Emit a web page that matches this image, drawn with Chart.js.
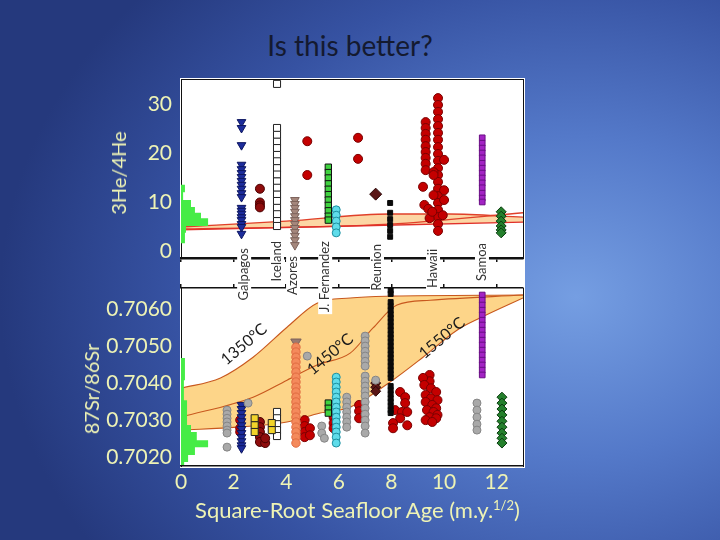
<!DOCTYPE html>
<html>
<head>
<meta charset="utf-8">
<script src="https://cdn.jsdelivr.net/npm/chart.js@4.4.0/dist/chart.umd.min.js"></script>
<style>
html, body { margin: 0; padding: 0; }
body {
  width: 720px; height: 540px; overflow: hidden; position: relative;
  background: radial-gradient(ellipse 80% 85% at 80% 55%, #759ee2 0%, #5479c9 35%, #3652a2 70%, #25397d 100%);
  font-family: Lato, "Open Sans", sans-serif;
}
#title { position: absolute; left: -10px; width: 720px; top: 28px; text-align: center; font-size: 28px; color: #141a30; }
#plotbg { position: absolute; left: 180px; top: 78px; width: 345px; height: 390px; background: #fff; }
.layer { position: absolute; left: 0; top: 0; }
.ytitle { position: absolute; color: #eef3b5; font-size: 20px; white-space: nowrap; transform: translate(-50%, -50%) rotate(-90deg); }
#xtitle { position: absolute; left: 180px; width: 355px; top: 496px; text-align: center; color: #eef3b5; font-size: 22px; white-space: nowrap; }
#xtitle sup { font-size: 13px; }
</style>
</head>
<body>
<div id="title">Is this better?</div>
<div id="plotbg"></div>
<canvas class="layer" id="heChart" width="720" height="540"></canvas>
<canvas class="layer" id="srChart" width="720" height="540"></canvas>
<div class="ytitle" style="left:118px; top:173px;">3He/4He</div>
<div class="ytitle" style="left:91px; top:389px;">87Sr/86Sr</div>
<div id="xtitle">Square-Root Seafloor Age (m.y.<sup>1/2</sup>)</div>
<script>
// axes
const xTicks = [0, 2, 4, 6, 8, 10, 12];
const heTicks = [0, 10, 20, 30];
const srTicks = [0.702, 0.703, 0.704, 0.705, 0.706];

// hotspot names under the upper panel
const hotspotNames = ['Galpagos', 'Iceland', 'Azores', 'J. Fernandez', 'Reunion', 'Hawaii', 'Samoa'];
const hotspotX = [2.4, 3.65, 4.26, 5.48, 7.45, 9.58, 11.44];

// MORB histograms (bin edges, bar lengths)
const heHistEdges = [13.5, 12.0, 10.4, 9.0, 7.8, 6.7, 5.1, 3.7, 1.6];
const heHistWidth = [0.15, 0.08, 0.38, 0.53, 0.76, 1.03, 0.19, 0.15];
const srHistEdges = [0.70468, 0.70408, 0.70354, 0.702865, 0.702676, 0.702459, 0.70227, 0.702054, 0.701865, 0.701784];
const srHistWidth = [0.15, 0.11, 0.23, 0.38, 0.6, 1.03, 0.53, 0.27, 0.12];

// model curves, 3He/4He
const heUpperX = [0, 4.0, 7.95, 10.2, 13];
const heUpperY = [4.9, 6.1, 7.55, 7.55, 6.9];
const heMidX = [0, 7.95, 13];
const heMidY = [4.5, 5.5, 7.8];
const heLowerX = [0, 13];
const heLowerY = [4.3, 5.9];

// model curves, 87Sr/86Sr
const sr1350X = [0, 1.5, 2.74, 4.03, 5.17, 6.43, 8.0, 13.0];
const sr1350Y = [0.70386, 0.70414, 0.70470, 0.70551, 0.70616, 0.70630, 0.70635, 0.70638];
const sr1450X = [0, 2.74, 4.03, 5.17, 6.43, 7.3, 8.21, 9.47, 13.0];
const sr1450Y = [0.70308, 0.70362, 0.70408, 0.70449, 0.70481, 0.70549, 0.70611, 0.70624, 0.70638];
const sr1550X = [0, 2.13, 4.03, 5.29, 6.43, 7.95, 9.2, 10.49, 11.37, 13.0];
const sr1550Y = [0.70273, 0.70281, 0.70295, 0.70319, 0.70335, 0.70403, 0.70470, 0.70543, 0.70576, 0.70630];
const curveLabels = ['1350°C', '1450°C', '1550°C'];
const curveLabelX = [2.4, 5.67, 9.92];
const curveLabelY = [0.70505, 0.70478, 0.70522];

// 3He/4He samples
const heGalapagosY = [26.3, 25.1, 21.6, 17.6, 16.7, 15.9, 15.1, 14.3, 13.5, 12.7, 11.8, 11.0, 8.8, 8.2, 7.6, 6.9, 6.3, 5.5, 4.9, 3.5];
const heDarkRedY = [12.7, 9.9, 9.3, 8.9];
const heIcelandY = [34.1, 25.1, 23.7, 22.3, 21.0, 19.6, 18.3, 16.9, 15.6, 14.2, 12.9, 11.5, 10.2, 8.8, 7.5, 6.1, 5.1];
const heAzoresY = [10.4, 9.6, 8.8, 8.0, 7.1, 6.3, 5.5, 4.7, 3.9, 3.1, 2.2, 1.2];
const heFernandezY = [17.1, 16.0, 14.9, 13.7, 12.6, 11.5, 10.4, 9.3, 8.2, 7.1, 6.3];
const heCyanY = [8.4, 7.3, 6.1, 4.9, 3.7];
const heBrownY = [11.6];
const heReunionY = [9.8, 7.8, 6.5, 5.3, 4.1, 2.9];
const heSamoaY = [23.1, 22.0, 21.0, 20.0, 19.0, 17.9, 16.9, 15.9, 14.9, 13.9, 12.9, 11.8, 10.8, 10.0];
const heDiamondY = [8.0, 7.1, 6.1, 5.1, 4.3, 3.7];
const heRedX = [4.8, 4.8, 6.73, 6.73,
  9.3, 9.3, 9.3, 9.3, 9.3, 9.3, 9.3, 9.3, 9.3,
  9.77, 9.77, 9.77, 9.77, 9.77, 9.77, 9.77, 9.77, 9.77, 9.77, 9.77, 9.77, 9.77, 9.77, 9.77, 9.77, 9.77, 9.77, 9.77, 9.77,
  9.2, 9.25, 9.4, 9.45, 9.6, 9.55, 10.0, 10.0, 10.0, 9.95, 9.6, 9.6];
const heRedY = [22.4, 15.5, 23.1, 18.8,
  26.3, 25.1, 23.9, 22.7, 21.4, 20.2, 19.0, 17.8, 16.5,
  31.2, 29.8, 28.4, 26.9, 25.5, 24.1, 22.7, 21.2, 19.8, 18.4, 16.9, 15.5, 14.1, 12.7, 11.2, 9.8, 8.4, 6.9, 5.5, 4.1,
  13.1, 9.4, 8.6, 6.7, 16.1, 8.0, 18.6, 12.4, 10.4, 7.3, 15.5, 11.4];

// 87Sr/86Sr samples
const srGalapagosY = [0.70341, 0.70330, 0.70319, 0.70308, 0.70297, 0.70286, 0.70276, 0.70265, 0.70254, 0.70243, 0.70232, 0.70224];
const srIcelandY = [0.70322, 0.70305, 0.70289, 0.70273, 0.70257];
const srAzoresY = [0.70497, 0.70484, 0.70470, 0.70457, 0.70443, 0.70430, 0.70416, 0.70403, 0.70389, 0.70376,
  0.70362, 0.70349, 0.70335, 0.70322, 0.70308, 0.70295, 0.70281, 0.70268, 0.70254, 0.70238];
const srAzoresTopY = [0.70511];
const srFernandezY = [0.70346, 0.70332, 0.70319];
const srCyanY = [0.70416, 0.70403, 0.70389, 0.70376, 0.70362, 0.70349, 0.70335, 0.70322, 0.70308, 0.70295, 0.70281, 0.70268, 0.70254, 0.70238];
const srBrownY = [0.70400, 0.70389, 0.70378];
const srReunionY = [0.70651, 0.70641, 0.70619, 0.70608, 0.70597, 0.70586, 0.70576, 0.70565, 0.70554, 0.70543, 0.70532, 0.70522,
  0.70511, 0.70500, 0.70489, 0.70478, 0.70468, 0.70457, 0.70446, 0.70435, 0.70424, 0.70414, 0.70392, 0.70381, 0.70370,
  0.70359, 0.70349, 0.70338, 0.70327, 0.70319];
const srSamoaY = [0.70638, 0.70624, 0.70611, 0.70597, 0.70584, 0.70570, 0.70557, 0.70543, 0.70530, 0.70516, 0.70503,
  0.70489, 0.70476, 0.70462, 0.70449, 0.70435, 0.70422];
const srDiamondY = [0.70362, 0.70346, 0.70330, 0.70314, 0.70297, 0.70281, 0.70265, 0.70251, 0.70238];
const srDarkRedX = [3.0, 3.0, 3.0, 3.0, 3.0, 3.2, 3.2];
const srDarkRedY = [0.70295, 0.70281, 0.70268, 0.70254, 0.70241, 0.70238, 0.70251];
const srYellowX = [2.8, 2.8, 2.8, 3.45, 3.45];
const srYellowY = [0.70305, 0.70286, 0.70268, 0.70292, 0.70273];
const srGrayX = [1.75, 1.75, 1.75, 1.75, 1.75, 1.75, 1.75, 1.75, 2.55, 4.8, 5.35, 5.35, 5.45,
  6.3, 6.3, 6.3, 6.3, 6.3, 6.3, 6.3,
  7.0, 7.0, 7.0, 7.0, 7.0, 7.0, 7.0, 7.0, 7.0, 7.0, 7.0, 7.0, 7.0, 7.0, 7.0, 7.0, 7.0, 7.0,
  7.4, 11.25, 11.25, 11.25, 11.25, 11.25];
const srGrayY = [0.70327, 0.70316, 0.70305, 0.70295, 0.70284, 0.70273, 0.70265, 0.70227, 0.70346, 0.70473, 0.70284, 0.70265, 0.70251,
  0.70362, 0.70349, 0.70335, 0.70322, 0.70308, 0.70295, 0.70281,
  0.70527, 0.70514, 0.70500, 0.70486, 0.70473, 0.70459, 0.70446, 0.70419, 0.70405, 0.70392, 0.70378, 0.70365, 0.70349, 0.70332, 0.70316, 0.70300, 0.70284, 0.70265,
  0.70408, 0.70346, 0.70327, 0.70308, 0.70289, 0.70273];
const srRedX = [2.25, 2.25, 2.25, 4.7, 4.7, 4.7, 4.7, 4.9, 4.9, 5.8, 5.8, 5.8, 6.77, 6.77, 6.77,
  8.33, 8.52, 8.52, 8.14, 8.4, 8.6, 8.33, 8.06, 8.6, 8.06,
  9.45, 9.45, 9.2, 9.25, 9.5, 9.7, 9.3, 9.5, 9.75, 9.3, 9.55, 9.7, 9.35, 9.6, 9.75, 9.45, 9.7, 9.3, 9.55];
const srRedY = [0.70300, 0.70278, 0.70268, 0.70300, 0.70284, 0.70268, 0.70254, 0.70278, 0.70259, 0.70308, 0.70292, 0.70278, 0.70341, 0.70324, 0.70305,
  0.70376, 0.70362, 0.70346, 0.70327, 0.70322, 0.70322, 0.70305, 0.70292, 0.70286, 0.70278,
  0.70422, 0.70405, 0.70414, 0.70395, 0.70386, 0.70376, 0.70368, 0.70359, 0.70354, 0.70349, 0.70341, 0.70332, 0.70327, 0.70322, 0.70314, 0.70308, 0.70305, 0.70300, 0.70295];

const tickColor = '#eef3b5';

function col(x, ys) { return ys.map(y => ({ x: x, y: y })); }
function pairs(xs, ys) { return xs.map((x, i) => ({ x: x, y: ys[i] })); }
function pts(data, style, fill, stroke, r, rot) {
  return { data: data, showLine: false, pointStyle: style, pointRadius: r, pointBackgroundColor: fill,
    pointBorderColor: stroke, pointBorderWidth: 1, pointRotation: rot || 0, order: 1 };
}
// the filled curve gets a higher order so it is painted first, under the other lines
function curve(xs, ys, color, width, fill, bg) {
  return { data: pairs(xs, ys), showLine: true, pointRadius: 0, borderColor: color, borderWidth: width,
    fill: fill || false, backgroundColor: bg || 'transparent', cubicInterpolationMode: 'monotone',
    order: fill ? 6 : 5 };
}
function hist(edges, widths) {
  const p = [{ x: 0, y: edges[0] }];
  widths.forEach((w, i) => { p.push({ x: w, y: edges[i] }); p.push({ x: w, y: edges[i + 1] }); });
  p.push({ x: 0, y: edges[edges.length - 1] });
  return { data: p, showLine: true, pointRadius: 0, borderWidth: 0, borderColor: 'transparent',
    fill: 'shape', backgroundColor: '#46ec46', order: 4 };
}
function fixTicks(list) { return s => { s.ticks = list.map(v => ({ value: v })); }; }

function frameScales(xOpts, yOpts, top) {
  return {
    x: Object.assign({ type: 'linear', min: 0, max: 13, afterBuildTicks: fixTicks(xTicks),
      border: { color: '#111', width: 1.5 } }, xOpts),
    x2: { type: 'linear', position: 'top', min: 0, max: 13, afterBuildTicks: fixTicks(xTicks),
      afterFit: s => { s.height = 0; }, ticks: { display: false },
      grid: { drawOnChartArea: false, drawTicks: top, tickLength: 4, color: '#111', lineWidth: 1.5 },
      border: { color: '#111', width: top ? 1.5 : 1 } },
    y: Object.assign({ type: 'linear', afterFit: s => { s.width = 76; },
      grid: { drawOnChartArea: false, drawTicks: false }, border: { color: '#111', width: 1 } }, yOpts),
    y2: { type: 'linear', position: 'right', afterFit: s => { s.width = 0; }, ticks: { display: false },
      grid: { drawOnChartArea: false, drawTicks: false }, border: { color: '#111', width: 1 } }
  };
}

const commonPlugins = { legend: { display: false }, tooltip: { enabled: false } };

// upper panel: 3He/4He
new Chart(document.getElementById('heChart'), {
  type: 'scatter',
  data: {
    datasets: [
      curve(heUpperX, heUpperY, '#e0402a', 1.3, '+1', '#fcd6a4'),
      curve(heLowerX, heLowerY, '#e0302a', 1.3),
      curve(heMidX, heMidY, '#e0402a', 1.3),
      hist(heHistEdges, heHistWidth),
      pts(col(2.3, heGalapagosY), 'triangle', '#1c2c9c', '#0d1660', 5, 180),
      pts(col(3.0, heDarkRedY), 'circle', '#8e0c0c', '#4a0000', 4.5),
      pts(col(3.65, heIcelandY), 'rect', '#ffffff', '#222222', 5),
      pts(col(4.33, heAzoresY), 'triangle', '#a5877c', '#7c625a', 5, 180),
      pts(col(5.6, heFernandezY), 'rect', '#3fd23f', '#111111', 4.5),
      pts(col(5.9, heCyanY), 'circle', '#5fdcea', '#1b8fa0', 4),
      pts(col(7.4, heBrownY), 'rectRot', '#5a1616', '#2a0505', 6),
      pts(col(7.95, heReunionY), 'rect', '#0a0a0a', '#0a0a0a', 3.5),
      pts(pairs(heRedX, heRedY), 'circle', '#c40000', '#7a0000', 4.5),
      pts(col(11.45, heSamoaY), 'rect', '#a323c4', '#6a0e85', 4),
      pts(col(12.17, heDiamondY), 'rectRot', '#24802c', '#0b3d10', 5)
    ]
  },
  options: {
    responsive: false, animation: false,
    layout: { padding: { left: 105, top: 79, right: 197, bottom: 282 } },
    plugins: commonPlugins,
    scales: frameScales(
      { afterFit: s => { s.height = 0; }, ticks: { display: false },
        grid: { drawOnChartArea: false, drawTicks: true, tickLength: 4, color: '#111', lineWidth: 1.5 },
        border: { color: '#111', width: 2.5 } },
      { min: -1.43, max: 35.1, afterBuildTicks: fixTicks(heTicks),
        ticks: { color: tickColor, padding: 9, font: { family: 'Lato', size: 21 } } },
      false)
  }
});

// rotated hotspot names and curve temperatures
const labelLift = [-40, -47, -32, -47, -44, -39, -45];
const annotations = {
  id: 'annotations',
  afterDraw(chart) {
    const { ctx, chartArea } = chart;
    const xs = chart.scales.x, ys = chart.scales.y;
    ctx.save();
    ctx.font = '13px Lato';
    ctx.textBaseline = 'middle';
    ctx.textAlign = 'right';
    hotspotNames.forEach((name, i) => {
      const w = ctx.measureText(name).width;
      ctx.save();
      ctx.translate(xs.getPixelForValue(hotspotX[i]), chartArea.top + labelLift[i]);
      ctx.rotate(-Math.PI / 2);
      ctx.fillStyle = '#ffffff';
      ctx.fillRect(-w - 2, -7, w + 4, 14);
      ctx.fillStyle = '#333333';
      ctx.fillText(name, 0, 0);
      ctx.restore();
    });
    ctx.font = '16px Lato';
    ctx.textAlign = 'center';
    ctx.fillStyle = '#1a1a1a';
    curveLabels.forEach((t, i) => {
      ctx.save();
      ctx.translate(xs.getPixelForValue(curveLabelX[i]), ys.getPixelForValue(curveLabelY[i]));
      ctx.rotate(-40 * Math.PI / 180);
      ctx.fillText(t, 0, 0);
      ctx.restore();
    });
    ctx.restore();
  }
};

// lower panel: 87Sr/86Sr
new Chart(document.getElementById('srChart'), {
  type: 'scatter',
  data: {
    datasets: [
      curve(sr1350X, sr1350Y, '#c8581e', 1.1, '+2', '#fdd589'),
      curve(sr1450X, sr1450Y, '#c8581e', 1.1),
      curve(sr1550X, sr1550Y, '#c8581e', 1.1),
      hist(srHistEdges, srHistWidth),
      pts(pairs(srGrayX, srGrayY), 'circle', '#a9a9a9', '#858585', 4),
      pts(col(2.3, srGalapagosY), 'triangle', '#1c2c9c', '#0d1660', 5, 180),
      pts(pairs(srYellowX, srYellowY), 'rect', '#f2d42a', '#222222', 5),
      pts(pairs(srDarkRedX, srDarkRedY), 'circle', '#8e0c0c', '#4a0000', 4.5),
      pts(col(3.65, srIcelandY), 'rect', '#ffffff', '#222222', 5),
      pts(col(4.37, srAzoresY), 'circle', '#f48a5c', '#e06a40', 4.2),
      pts(col(4.37, srAzoresTopY), 'triangle', '#9a7a70', '#7c625a', 6, 180),
      pts(col(5.6, srFernandezY), 'rect', '#3fd23f', '#111111', 4.5),
      pts(col(5.9, srCyanY), 'circle', '#5fdcea', '#1b8fa0', 4),
      pts(col(7.4, srBrownY), 'rectRot', '#5a1616', '#2a0505', 5),
      pts(col(7.97, srReunionY), 'rect', '#0a0a0a', '#0a0a0a', 3.5),
      pts(pairs(srRedX, srRedY), 'circle', '#c40000', '#7a0000', 4.5),
      pts(col(11.45, srSamoaY), 'rect', '#a323c4', '#6a0e85', 4),
      pts(col(12.2, srDiamondY), 'rectRot', '#24802c', '#0b3d10', 5)
    ]
  },
  options: {
    responsive: false, animation: false,
    layout: { padding: { left: 105, top: 288, right: 197, bottom: 44 } },
    plugins: commonPlugins,
    scales: frameScales(
      { afterFit: s => { s.height = 30; },
        ticks: { color: tickColor, padding: 4, font: { family: 'Lato', size: 21 } },
        grid: { drawOnChartArea: false, drawTicks: false } },
      { min: 0.70176, max: 0.70657, afterBuildTicks: fixTicks(srTicks),
        ticks: { color: tickColor, padding: 9, font: { family: 'Lato', size: 21 }, callback: v => v.toFixed(4) } },
      true)
  },
  plugins: [annotations]
});
</script>
</body>
</html>
